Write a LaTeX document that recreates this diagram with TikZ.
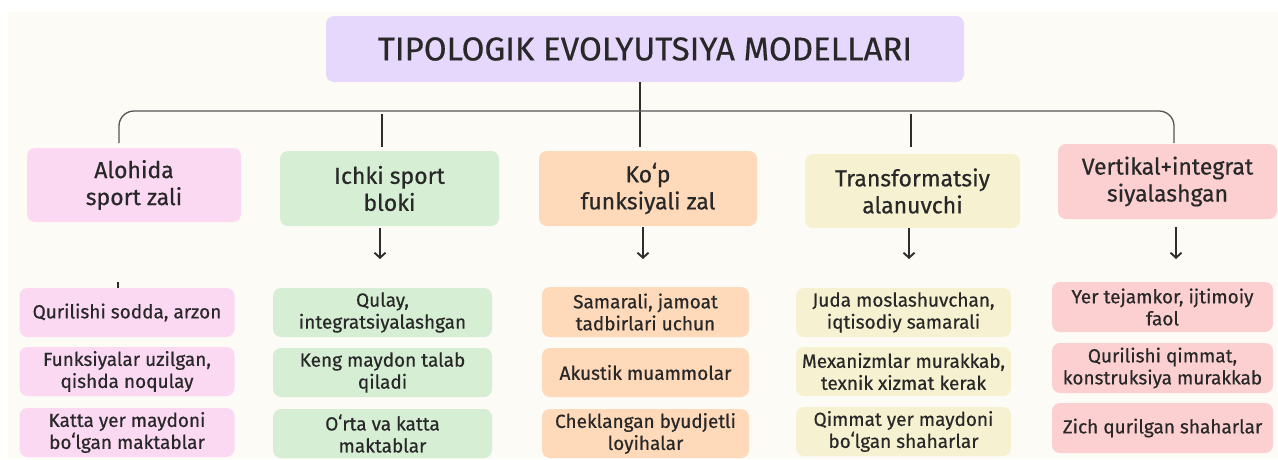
\documentclass[tikz,border=0pt]{standalone}
\usepackage{fontspec}
\setmainfont{Fira Sans}[FakeBold=0.5]
\usetikzlibrary{arrows.meta,positioning}
\definecolor{PaperColor}{RGB}{252,251,246}
\definecolor{TitleColor}{RGB}{230,215,252}
\definecolor{PinkColor}{RGB}{251,217,242}
\definecolor{GreenColor}{RGB}{214,238,212}
\definecolor{PeachColor}{RGB}{254,217,186}
\definecolor{CreamColor}{RGB}{246,241,208}
\definecolor{RoseColor}{RGB}{252,208,209}
\definecolor{InkColor}{RGB}{40,40,40}
\definecolor{LineColor}{RGB}{45,45,45}
\definecolor{BracketColor}{RGB}{85,85,85}

\begin{document}
\begin{tikzpicture}[x=1pt, y=-1pt,
    box/.style={rounded corners=8pt, inner sep=0pt, align=center, text=InkColor},
    head/.style={box, minimum height=74pt, font=\fontsize{23}{27}\selectfont},
    item/.style={box, minimum height=49pt, font=\fontsize{19}{22}\selectfont},
    link/.style={LineColor, line width=1.9pt},
    arr/.style={link, -{Straight Barb[length=5pt,width=11pt]}}]
      \useasboundingbox (0,0) rectangle (1278,459);
      \fill[PaperColor] (8,12) rectangle (1278,459);
      \node[box, fill=TitleColor, minimum width=638pt, minimum height=66pt, font=\fontsize{33}{38}\selectfont] (title) at (645,49) {TIPOLOGIK EVOLYUTSIYA MODELLARI};
      \node[head, fill=PinkColor, minimum width=214pt] (alohida) at (134,185) {Alohida\\sport zali};
      \node[head, fill=GreenColor, minimum width=219pt, minimum height=75pt] (ichki) at (389.5,188.5) {Ichki sport\\bloki};
      \node[head, fill=PeachColor, minimum width=218pt, minimum height=75pt] (kop) at (648,188.5) {Koʻp\\funksiyali zal};
      \node[head, fill=CreamColor, minimum width=215pt] (transf) at (912.5,191) {Transformatsiy\\alanuvchi};
      \node[head, fill=RoseColor, minimum width=219pt, minimum height=75pt] (vertikal) at (1167.5,181.5) {Vertikal+integrat\\siyalashgan};
      \coordinate (hub) at (640,111);
      \coordinate (hubend) at (640,147);
      \coordinate (left) at (119,143);
      \coordinate (right) at (1174,143);
      \coordinate (tickA) at (382,114);
      \coordinate (tickB) at (382,147);
      \coordinate (tickC) at (911,114);
      \coordinate (tickD) at (911,147);
      \draw[link] (title.south -| hub) -- (hubend);
      \draw[BracketColor, line width=1.3pt, rounded corners=15pt] (left) |- (hub) -| (right);
      \draw[link] (tickA) -- (tickB);
      \draw[link] (tickC) -- (tickD);
      \node[item, fill=PinkColor, minimum width=215pt] (al1) at (127,312.5) {Qurilishi sodda, arzon};
      \node[item, fill=PinkColor, minimum width=215pt] (al2) at (127,371.5) {Funksiyalar uzilgan,\\qishda noqulay};
      \node[item, fill=PinkColor, minimum width=215pt] (al3) at (127,432.5) {Katta yer maydoni\\boʻlgan maktablar};
      \node[item, fill=GreenColor, minimum width=219pt] (ic1) at (382.5,312.5) {Qulay,\\integratsiyalashgan};
      \node[item, fill=GreenColor, minimum width=219pt] (ic2) at (382.5,372.5) {Keng maydon talab\\qiladi};
      \node[item, fill=GreenColor, minimum width=219pt] (ic3) at (382.5,433.5) {Oʻrta va katta\\maktablar};
      \node[item, fill=PeachColor, minimum width=207pt, minimum height=50pt] (ko1) at (645.5,312) {Samarali, jamoat\\tadbirlari uchun};
      \node[item, fill=PeachColor, minimum width=207pt] (ko2) at (645.5,372.5) {Akustik muammolar};
      \node[item, fill=PeachColor, minimum width=207pt] (ko3) at (645.5,433.5) {Cheklangan byudjetli\\loyihalar};
      \node[item, fill=CreamColor, minimum width=215pt] (tr1) at (903.5,312.5) {Juda moslashuvchan,\\iqtisodiy samarali};
      \node[item, fill=CreamColor, minimum width=215pt] (tr2) at (903.5,371.5) {Mexanizmlar murakkab,\\texnik xizmat kerak};
      \node[item, fill=CreamColor, minimum width=215pt] (tr3) at (903.5,431.5) {Qimmat yer maydoni\\boʻlgan shaharlar};
      \node[item, fill=RoseColor, minimum width=221pt, minimum height=50pt] (ve1) at (1162.5,307) {Yer tejamkor, ijtimoiy\\faol};
      \node[item, fill=RoseColor, minimum width=221pt, minimum height=50pt] (ve2) at (1162.5,368) {Qurilishi qimmat,\\konstruksiya murakkab};
      \node[item, fill=RoseColor, minimum width=221pt, minimum height=50pt] (ve3) at (1162.5,428) {Zich qurilgan shaharlar};
      \coordinate (tipB) at (380,259);
      \coordinate (tipC) at (643,259);
      \coordinate (tipD) at (909,259);
      \coordinate (tipE) at (1176,259);
      \coordinate (stub) at (118,282);
      \draw[arr, shorten <=2pt] (ichki.south -| tipB) -- (tipB);
      \draw[arr, shorten <=1pt] (kop.south -| tipC) -- (tipC);
      \draw[arr] (transf.south -| tipD) -- (tipD);
      \draw[arr, shorten <=8pt] (vertikal.south -| tipE) -- (tipE);
      \draw[link] (stub) -- (al1.north -| stub);
    \end{tikzpicture}
\end{document}
